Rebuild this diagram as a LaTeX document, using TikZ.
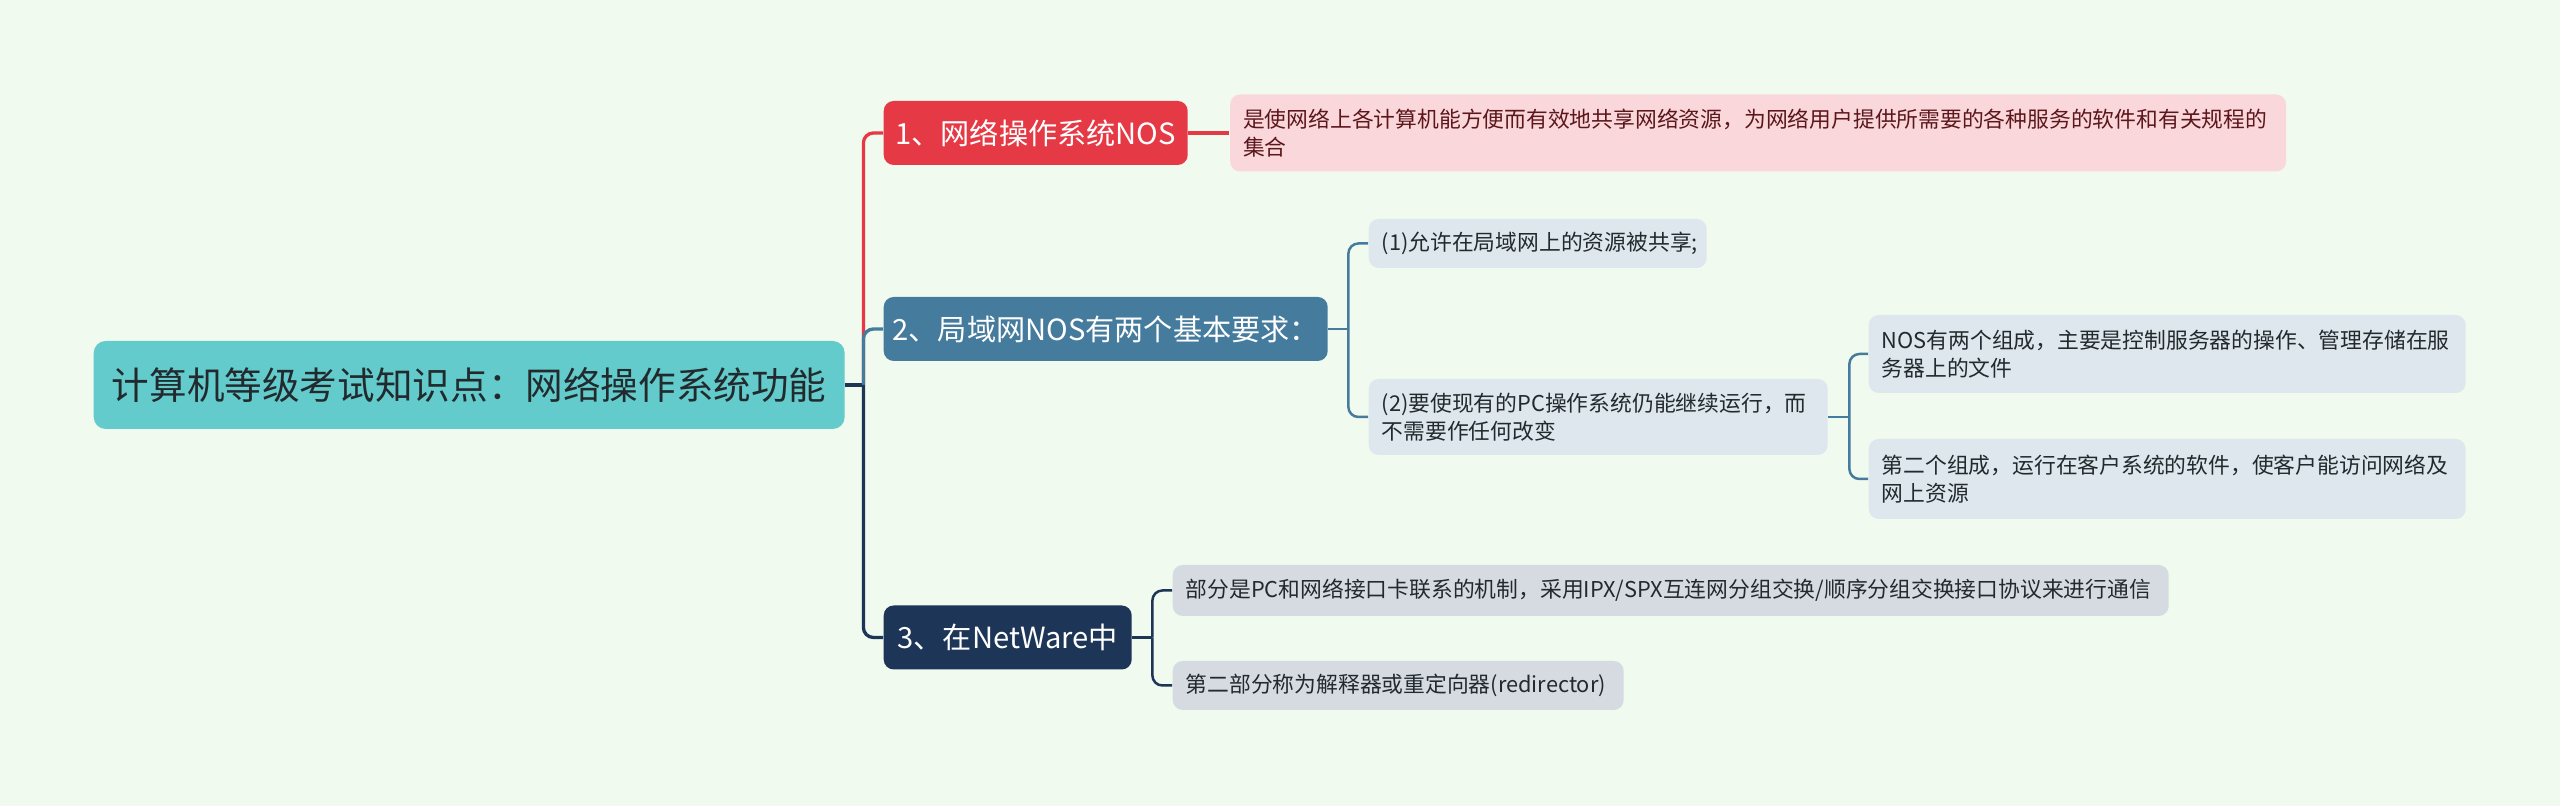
\documentclass[tikz,border=0pt]{standalone}
\usepackage{fontspec}
\setmainfont{Noto Sans CJK SC}
\usetikzlibrary{positioning,calc}
\definecolor{mint}{HTML}{F1FAEE}
\definecolor{teal}{HTML}{63CBCB}
\definecolor{rose}{HTML}{E63946}
\definecolor{steel}{HTML}{457B9D}
\definecolor{navy}{HTML}{1D3557}
\definecolor{ink}{HTML}{222A2E}
\tikzset{
  topic/.style={fill=#1,text=white,rounded corners=1mm,inner sep=0pt,anchor=west,
    minimum height=6.4mm,align=center,font=\fontsize{8.3}{10}\selectfont},
  note/.style={fill=#1,text=ink,rounded corners=1mm,anchor=west,inner xsep=1.3mm,inner ysep=0pt,
    align=left,font=\fontsize{6.2}{7.9}\selectfont},
  link/.style={draw=#1,line width=0.33mm},
  twig/.style={draw=#1,line width=0.25mm,rounded corners=1mm},
}

\begin{document}
\begin{tikzpicture}[x=0.1mm,y=-0.1mm]
  \fill[mint] (0,0) rectangle (2560,806);
  % centre
  \node[fill=teal,text=ink,rounded corners=1.2mm,anchor=west,minimum width=75.1mm,minimum height=8.8mm,
    font=\fontsize{10.7}{13}\selectfont] (root) at (93,385) {计算机等级考试知识点：网络操作系统功能};
  % main topics
  \node[topic=rose,minimum width=30.4mm] (nos) at (883,133) {1、网络操作系统NOS};
  \node[topic=steel,minimum width=44.4mm] (lan) at (883,329) {2、局域网NOS有两个基本要求：};
  \node[topic=navy,minimum width=24.8mm] (nw) at (883,637.5) {3、在NetWare中};
  % notes
  \node[note=rose!20,text=rose!40!black,text width=103mm,minimum height=7.7mm,right=4.1mm of nos] (def)
    {是使网络上各计算机能方便而有效地共享网络资源，为网络用户提供所需要的各种服务的软件和有关规程的\\集合};
  \node[note=steel!18,text width=31.2mm,minimum height=4.9mm] (share) at (1368,243.5) {(1)允许在局域网上的资源被共享;};
  \node[note=steel!18,text width=43.3mm,minimum height=7.6mm] (keep) at (1368,417)
    {(2)要使现有的PC操作系统仍能继续运行，而\\不需要作任何改变};
  \node[note=steel!18,text width=57.1mm,minimum height=7.8mm] (srv) at (1868,354)
    {NOS有两个组成，主要是控制服务器的操作、管理存储在服\\务器上的文件};
  \node[note=steel!18,text width=57.1mm,minimum height=8mm] (cli) at (1868,479)
    {第二个组成，运行在客户系统的软件，使客户能访问网络及\\网上资源};
  \node[note=navy!18,text width=97mm,minimum height=5.1mm] (ipx) at (1172,590.5)
    {部分是PC和网络接口卡联系的机制，采用IPX/SPX互连网分组交换/顺序分组交换接口协议来进行通信};
  \node[note=navy!18,text width=42.5mm,minimum height=4.9mm] (redir) at (1172,685.5)
    {第二部分称为解释器或重定向器(redirector)};

  % connectors
  \coordinate (rj) at ([xshift=1.8mm]root.east);
  \draw[link=navy] (root.east) -- (rj);
  \foreach \b/\c in {nos/rose,lan/steel,nw/navy}
    \draw[twig=\c,line width=0.33mm] (rj) |- (\b.west);
  \draw[link=rose] (nos.east) -- (def.west);
  \coordinate (lj) at ([xshift=2mm]lan.east);
  \draw[twig=steel] (lan.east) -- (lj);
  \foreach \n in {share,keep} \draw[twig=steel] (lj) |- (\n.west);
  \coordinate (kj) at ([xshift=2.1mm]keep.east);
  \draw[twig=steel] (keep.east) -- (kj);
  \foreach \n in {srv,cli} \draw[twig=steel] (kj) |- (\n.west);
  \coordinate (nj) at ([xshift=2mm]nw.east);
  \draw[twig=navy] (nw.east) -- (nj);
  \foreach \n in {ipx,redir} \draw[twig=navy] (nj) |- (\n.west);
\end{tikzpicture}
\end{document}
